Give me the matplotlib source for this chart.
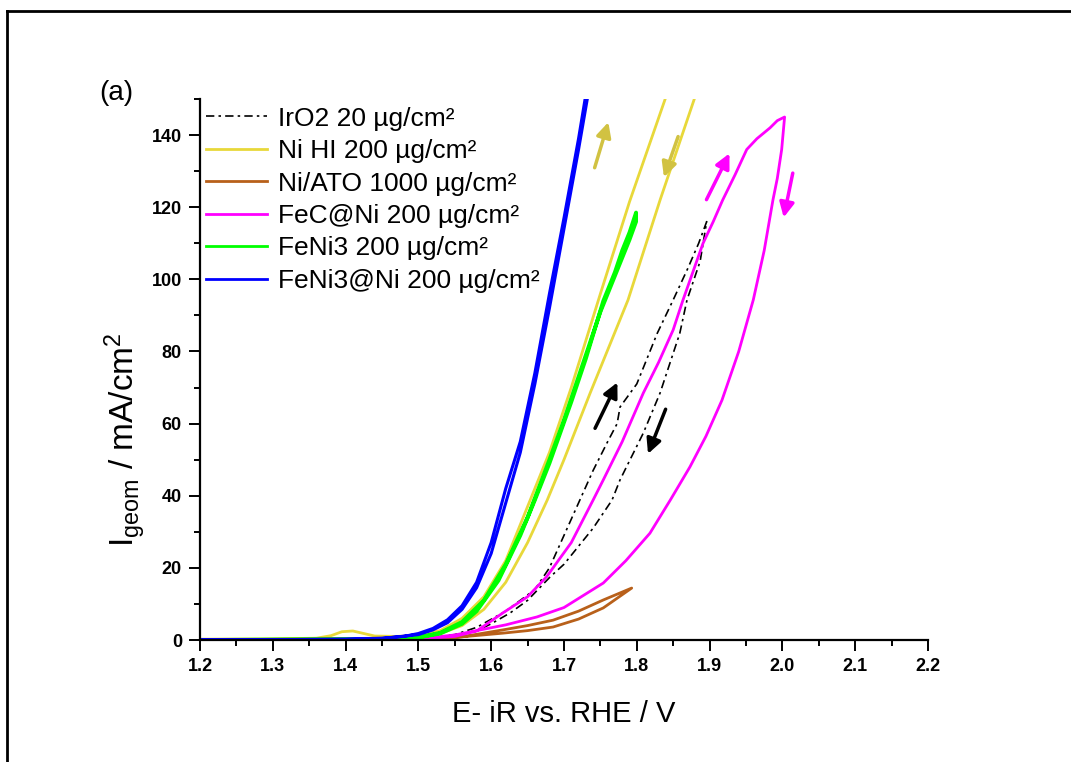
import matplotlib
matplotlib.use("Agg")
import matplotlib.pyplot as plt
from matplotlib.lines import Line2D

plt.rcParams['font.family'] = ['Liberation Sans', 'DejaVu Sans']
plt.rcParams['mathtext.default'] = 'regular'

# IrO2 20 ug/cm2 (forward, then backward)
iro2_x = [1.20, 1.45, 1.50, 1.55, 1.58, 1.62, 1.66, 1.68, 1.70, 1.72, 1.74, 1.76, 1.773, 1.777, 1.80, 1.828, 1.85, 1.87, 1.885, 1.896,
          1.887, 1.869, 1.859, 1.832, 1.809, 1.777, 1.766, 1.74, 1.72, 1.70, 1.681, 1.65, 1.626, 1.60, 1.58, 1.55, 1.50, 1.20]
iro2_y = [0.0, 0.1, 0.3, 1.5, 3.5, 8.0, 14.0, 20, 29, 38, 47, 55, 60, 64.6, 71, 85, 94.3, 103, 110, 116,
          105, 94.3, 85, 68.5, 57.4, 44.4, 38.8, 31, 26, 21, 17.5, 11, 7.5, 4.5, 2.5, 1.2, 0.3, 0.0]

# Ni HI 200 ug/cm2 (both branches run past the top of the axis)
nihi_x = [1.20, 1.30, 1.36, 1.38, 1.395, 1.41, 1.425, 1.44, 1.47, 1.50, 1.53, 1.56, 1.59, 1.62, 1.65, 1.68, 1.71, 1.75, 1.79, 1.839, 1.855,
          1.895, 1.879, 1.832, 1.788, 1.736, 1.70, 1.677, 1.65, 1.62, 1.59, 1.56, 1.53, 1.50, 1.45, 1.35, 1.20]
nihi_y = [0.2, 0.3, 0.5, 1.2, 2.3, 2.5, 1.8, 1.1, 1.0, 1.3, 2.6, 6.0, 12.0, 22, 37, 52, 70, 96, 121.5, 150, 160,
          160, 150, 122, 94.3, 68.5, 50, 38.8, 27, 16, 8.5, 4.0, 1.8, 0.7, 0.3, 0.2, 0.2]

# Ni/ATO 1000 ug/cm2
niato_x = [1.20, 1.50, 1.56, 1.616, 1.65, 1.685, 1.72, 1.754, 1.793, 1.754, 1.72, 1.685, 1.65, 1.616, 1.55, 1.20]
niato_y = [0.0, 0.2, 0.9, 2.8, 4.0, 5.5, 8.0, 11.1, 14.4, 8.9, 5.8, 3.6, 2.6, 1.9, 0.7, 0.0]

# FeC@Ni 200 ug/cm2
fec_x = [1.20, 1.50, 1.55, 1.58, 1.616, 1.65, 1.676, 1.71, 1.740, 1.754, 1.78, 1.809, 1.83, 1.850, 1.863, 1.877, 1.891, 1.905, 1.918,
         1.935, 1.951, 1.965, 1.983, 1.993, 2.003,
         1.999, 1.993, 1.987, 1.975, 1.960, 1.940, 1.917, 1.895, 1.873, 1.846, 1.818, 1.785, 1.754, 1.70, 1.663, 1.62, 1.585, 1.55, 1.50, 1.20]
fec_y = [0.0, 0.2, 1.0, 2.5, 7.5, 12, 17.5, 27, 38.8, 44.4, 55, 68.5, 77, 86, 94, 102, 110, 116, 122,
         129, 136, 139, 142, 144, 145,
         136, 128, 122, 108, 94.3, 80, 66.5, 56.5, 48, 38.8, 29.6, 22, 15.8, 9, 6.4, 4.2, 2.8, 1.4, 0.3, 0.0]

# FeNi3 200 ug/cm2
feni3_x = [1.20, 1.40, 1.45, 1.50, 1.53, 1.56, 1.58, 1.61, 1.64, 1.66, 1.68, 1.71, 1.73, 1.754, 1.77, 1.78, 1.79, 1.799,
           1.799, 1.79, 1.77, 1.75, 1.72, 1.70, 1.68, 1.65, 1.62, 1.59, 1.56, 1.53, 1.50, 1.45, 1.20]
feni3_y = [0.0, 0.1, 0.2, 0.7, 1.8, 4.5, 8.0, 16.5, 29, 38.8, 49, 66, 78, 94, 102, 108, 113, 118.5,
           116, 111, 101, 91, 73, 61, 50, 34, 21, 11, 5, 2, 0.7, 0.2, 0.0]

# FeNi3@Ni 200 ug/cm2
feni3ni_x = [1.20, 1.30, 1.40, 1.45, 1.48, 1.50, 1.52, 1.54, 1.56, 1.58, 1.60, 1.62, 1.64, 1.66, 1.68, 1.70, 1.72, 1.729, 1.736,
             1.739, 1.732, 1.72, 1.70, 1.68, 1.66, 1.64, 1.62, 1.60, 1.58, 1.56, 1.54, 1.52, 1.50, 1.45, 1.40, 1.30, 1.20]
feni3ni_y = [0.0, 0.1, 0.2, 0.5, 1.0, 1.8, 3.2, 5.6, 9.5, 16.0, 27.0, 42.0, 55.0, 74.0, 96.0, 117.0, 139.0, 150.0, 158,
             158, 150, 136, 114, 92, 71, 52, 38, 24, 14.5, 8.5, 4.8, 2.8, 1.5, 0.4, 0.2, 0.1, 0.0]

labels = ['IrO2 20 µg/cm²', 'Ni HI 200 µg/cm²', 'Ni/ATO 1000 µg/cm²',
          'FeC@Ni 200 µg/cm²', 'FeNi3 200 µg/cm²', 'FeNi3@Ni 200 µg/cm²']

# sweep direction arrows: tail x, tail y, tip x, tip y, colour
arrows = [
    (1.741, 130.2, 1.762, 144.3, '#d1c242'),
    (1.858, 140.3, 1.836, 127.6, '#d1c242'),
    (1.894, 121.4, 1.929, 135.6, '#ff00ff'),
    (2.015, 130.2, 2.001, 116.4, '#ff00ff'),
    (1.741, 58.0, 1.775, 72.1, 'black'),
    (1.841, 64.7, 1.814, 50.9, 'black'),
]

fig = plt.figure(figsize=(10.71, 7.62), dpi=100)
ax = fig.add_axes([0.1867, 0.1601, 0.6798, 0.71])

ax.plot(iro2_x, iro2_y, color='black', lw=1.2, dashes=[5, 2.5, 1.5, 2.5], label=labels[0])
ax.plot(nihi_x, nihi_y, color='#e8d83a', lw=2, label=labels[1])
ax.plot(niato_x, niato_y, color='#b8601a', lw=2, label=labels[2])
ax.plot(fec_x, fec_y, color='#ff00ff', lw=2, label=labels[3])
ax.plot(feni3_x, feni3_y, color='#00ff00', lw=2.8, label=labels[4])
ax.plot(feni3ni_x, feni3ni_y, color='#0000ff', lw=2.2, label=labels[5])

for x0, y0, x1, y1, c in arrows:
    ax.annotate('', xy=(x1, y1), xytext=(x0, y0),
                arrowprops=dict(arrowstyle='-|>', mutation_scale=22, lw=2.5, color=c))

ax.set_xlim(1.2, 2.2)
ax.set_ylim(0, 150)
ax.set_xticks([1.2, 1.3, 1.4, 1.5, 1.6, 1.7, 1.8, 1.9, 2.0, 2.1, 2.2])
ax.set_xticks([1.25, 1.35, 1.45, 1.55, 1.65, 1.75, 1.85, 1.95, 2.05, 2.15], minor=True)
ax.set_yticks([0, 20, 40, 60, 80, 100, 120, 140])
ax.set_yticks([10, 30, 50, 70, 90, 110, 130, 150], minor=True)
ax.set_xticklabels(['1.2', '1.3', '1.4', '1.5', '1.6', '1.7', '1.8', '1.9', '2.0', '2.1', '2.2'])

for s in ['top', 'right']:
    ax.spines[s].set_visible(False)
for s in ['left', 'bottom']:
    ax.spines[s].set_linewidth(1.6)
ax.tick_params(which='major', direction='out', length=8, width=1.4, labelsize=13, pad=5)
ax.tick_params(which='minor', direction='out', length=4, width=1.4)
for t in ax.get_xticklabels() + ax.get_yticklabels():
    t.set_fontweight('bold')

ax.set_xlabel('E- iR vs. RHE / V', fontsize=21, labelpad=18)
ax.set_ylabel('I$_{geom}$ / mA/cm$^{2}$', fontsize=24)
ax.yaxis.set_label_coords(-0.072, 0.37)

leg_handles = [Line2D([], [], color='black', lw=1.2, dashes=[5, 2.5, 1.5, 2.5]),
               Line2D([], [], color='#e8d83a', lw=2),
               Line2D([], [], color='#b8601a', lw=2),
               Line2D([], [], color='#ff00ff', lw=2),
               Line2D([], [], color='#00ff00', lw=2),
               Line2D([], [], color='#0000ff', lw=2)]
ax.legend(leg_handles, labels, loc='upper left', bbox_to_anchor=(-0.013, 1.015), frameon=False,
          fontsize=19, handlelength=2.3, handletextpad=0.4, labelspacing=0.32, borderaxespad=0.2)

fig.text(0.093, 0.878, '(a)', fontsize=20, va='center', ha='left')

# outer frame of the page, cut at the right and bottom edges
fig.add_artist(Line2D([7 / 1071, 1.0], [1 - 11 / 762, 1 - 11 / 762], transform=fig.transFigure, color='black', lw=2))
fig.add_artist(Line2D([7 / 1071, 7 / 1071], [0.0, 1 - 11 / 762], transform=fig.transFigure, color='black', lw=2))

fig.savefig('out.png', dpi=100)
